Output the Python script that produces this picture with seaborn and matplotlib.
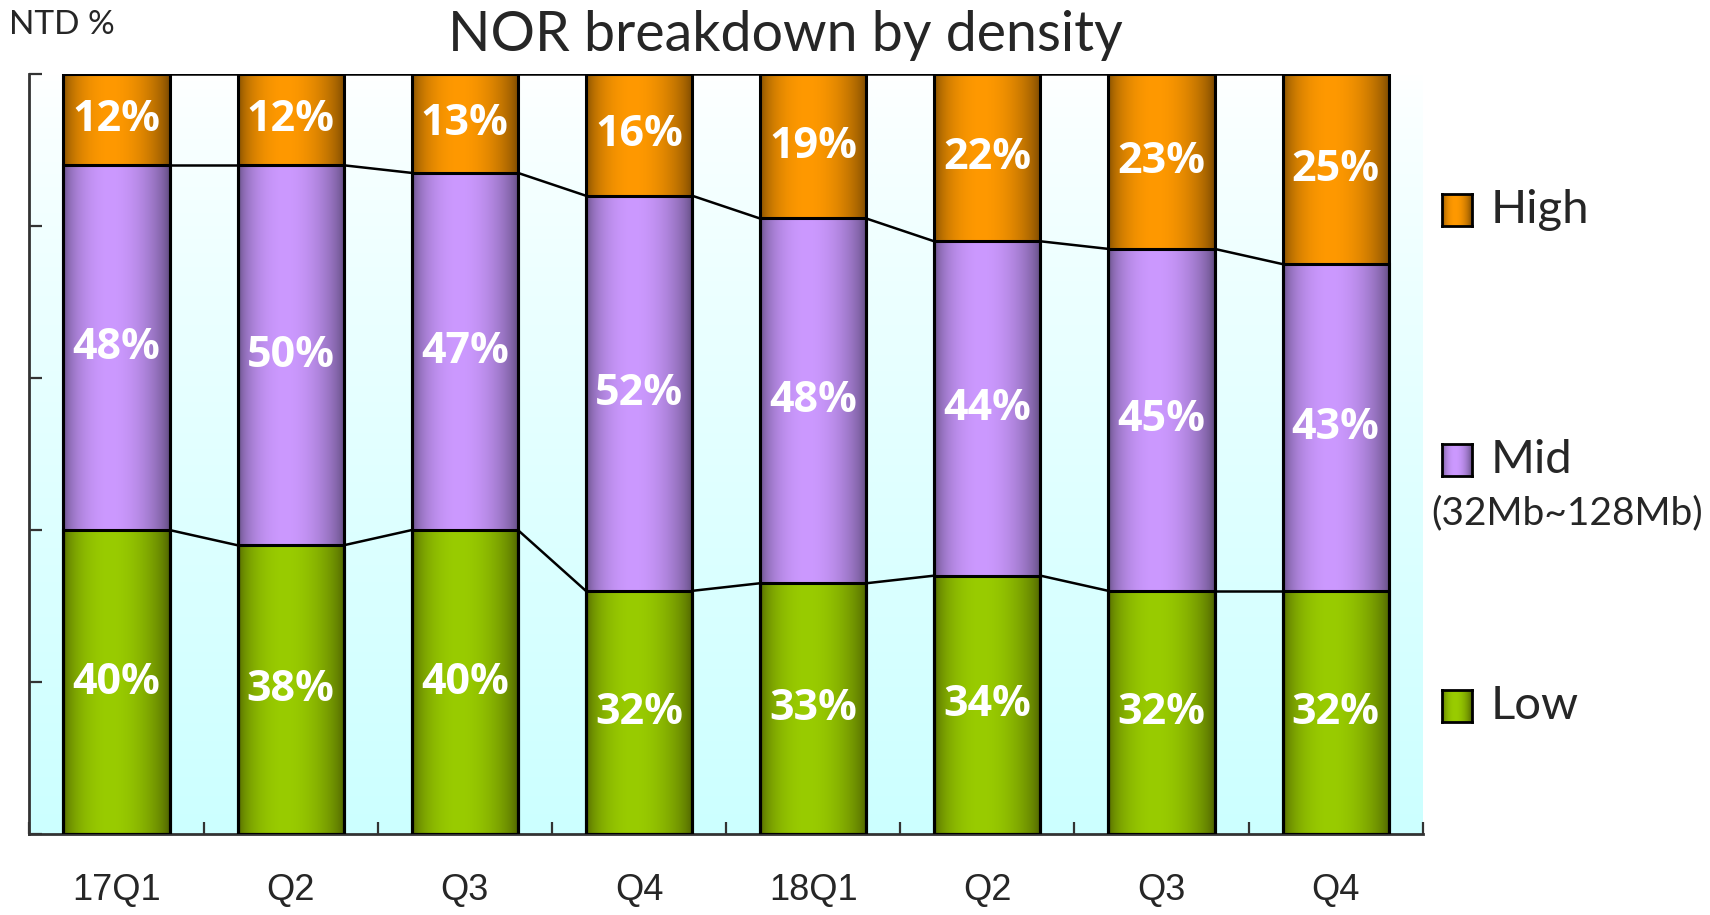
import numpy as np
import pandas as pd
import matplotlib
matplotlib.use('Agg')
import matplotlib.pyplot as plt
import seaborn as sns
from matplotlib.colors import to_rgb

# quarters (ids unique, labels as shown)
quarter_ids = ['17Q1', '17Q2', '17Q3', '17Q4', '18Q1', '18Q2', '18Q3', '18Q4']
quarter_labels = ['17Q1', 'Q2', 'Q3', 'Q4', '18Q1', 'Q2', 'Q3', 'Q4']

# share of NTD, %
low = [40, 38, 40, 32, 33, 34, 32, 32]
mid = [48, 50, 47, 52, 48, 44, 45, 43]
high = [12, 12, 13, 16, 19, 22, 23, 25]

legend_names = ['High', 'Mid', 'Low']

df = pd.DataFrame({'quarter': quarter_ids, 'low': low, 'mid': mid, 'high': high})
df['low_mid'] = df['low'] + df['mid']
df['total'] = df['low_mid'] + df['high']

# light centre / dark edge for the cylinder look
seg_colors = {
    'high': ('#ff9900', '#6e4200'),
    'mid': ('#cc99ff', '#584676'),
    'low': ('#99cc00', '#485a00'),
}


def make_grad(light, dark, n=256):
    t = np.linspace(0, 1, n)
    f = np.sin(np.pi * t ** 0.85) ** 0.6
    lt, dk = np.array(to_rgb(light)), np.array(to_rgb(dark))
    return (dk[None, :] + (lt - dk)[None, :] * f[:, None])[None, :, :]


grads = {k: make_grad(*v) for k, v in seg_colors.items()}

sns.set_theme(style='white')
plt.rcParams['font.family'] = ['Lato', 'DejaVu Sans']

fig = plt.figure(figsize=(17.1, 9.15), dpi=100)
ax = fig.add_axes([0.0172, 0.0885, 0.8148, 0.8305])

bar_w = 0.61

# background: white at top fading into pale cyan
bg_top, bg_bot = np.array([1.0, 1.0, 1.0]), np.array(to_rgb('#ccffff'))
s = np.linspace(0, 1, 256)[:, None] ** 0.8
bg = (bg_top + (bg_bot - bg_top) * s)[:, None, :]
ax.imshow(bg, extent=[-0.5, 7.5, 0, 100], aspect='auto', zorder=0, interpolation='bilinear')

# stacked bars drawn as overlapping cumulative bars
layers = [('total', 'high'), ('low_mid', 'mid'), ('low', 'low')]
for z, (col, seg) in enumerate(layers):
    n0 = len(ax.patches)
    sns.barplot(data=df, x='quarter', y=col, order=quarter_ids, color=seg_colors[seg][0],
                saturation=1, width=bar_w, edgecolor='black', linewidth=2.2, ax=ax)
    for p in ax.patches[n0:]:
        x0, w, h = p.get_x(), p.get_width(), p.get_height()
        ax.imshow(grads[seg], extent=[x0, x0 + w, 0, h], aspect='auto',
                  zorder=2 + z, interpolation='bilinear')
        p.set_facecolor('none')
        p.set_zorder(8)

# connector lines between the bars
for col in ['low', 'low_mid', 'total']:
    lev = df[col].values
    for i in range(len(lev) - 1):
        ax.plot([i + bar_w / 2, i + 1 - bar_w / 2], [lev[i], lev[i + 1]],
                color='black', lw=1.8, zorder=7, solid_capstyle='butt')

# value labels
for i in range(len(df)):
    bottoms = [0, low[i], low[i] + mid[i]]
    for b, v in zip(bottoms, [low[i], mid[i], high[i]]):
        ax.text(i, b + v / 2, f'{v}%', color='white', fontsize=31, fontweight='bold',
                family=['Open Sans', 'DejaVu Sans'],
                ha='center', va='center', zorder=9)

ax.set_xlim(-0.5, 7.5)
ax.set_ylim(0, 100)
ax.set_xlabel('')
ax.set_ylabel('')

ax.set_yticks(np.arange(0, 101, 20))
ax.set_yticklabels([])
ax.tick_params(axis='y', direction='in', length=9, width=1.6, color='#333333', left=True)
ax.set_xticks(range(len(quarter_labels)))
ax.set_xticklabels(quarter_labels, fontsize=26, family=['Liberation Sans', 'DejaVu Sans'])
ax.set_xticks(np.arange(-0.5, 8, 1), minor=True)
ax.tick_params(axis='x', which='major', length=0, pad=28)
ax.tick_params(axis='x', which='minor', direction='in', length=9, width=1.6,
               color='#333333', bottom=True)

for side in ['top', 'right']:
    ax.spines[side].set_visible(False)
for side in ['left', 'bottom']:
    ax.spines[side].set_color('#333333')
    ax.spines[side].set_linewidth(2)

fig.text(0.459, 0.961, 'NOR breakdown by density', fontsize=40, ha='center', va='center')
fig.text(0.005, 0.973, 'NTD %', fontsize=24, ha='left', va='center')

# legend built by hand (gradient squares)
leg_y = [0.770, 0.497, 0.228]
for name, y in zip(legend_names, leg_y):
    lax = fig.add_axes([0.8433, y - 0.0175, 0.0175, 0.035])
    lax.imshow(grads[name.lower()], aspect='auto', interpolation='bilinear')
    lax.set_xticks([])
    lax.set_yticks([])
    for sp in lax.spines.values():
        sp.set_color('black')
        sp.set_linewidth(2)
    fig.text(0.872, y, name, fontsize=34, ha='left', va='center')
fig.text(0.837, 0.439, '(32Mb~128Mb)', fontsize=28, ha='left', va='center')

fig.savefig('out.png', dpi=100)
